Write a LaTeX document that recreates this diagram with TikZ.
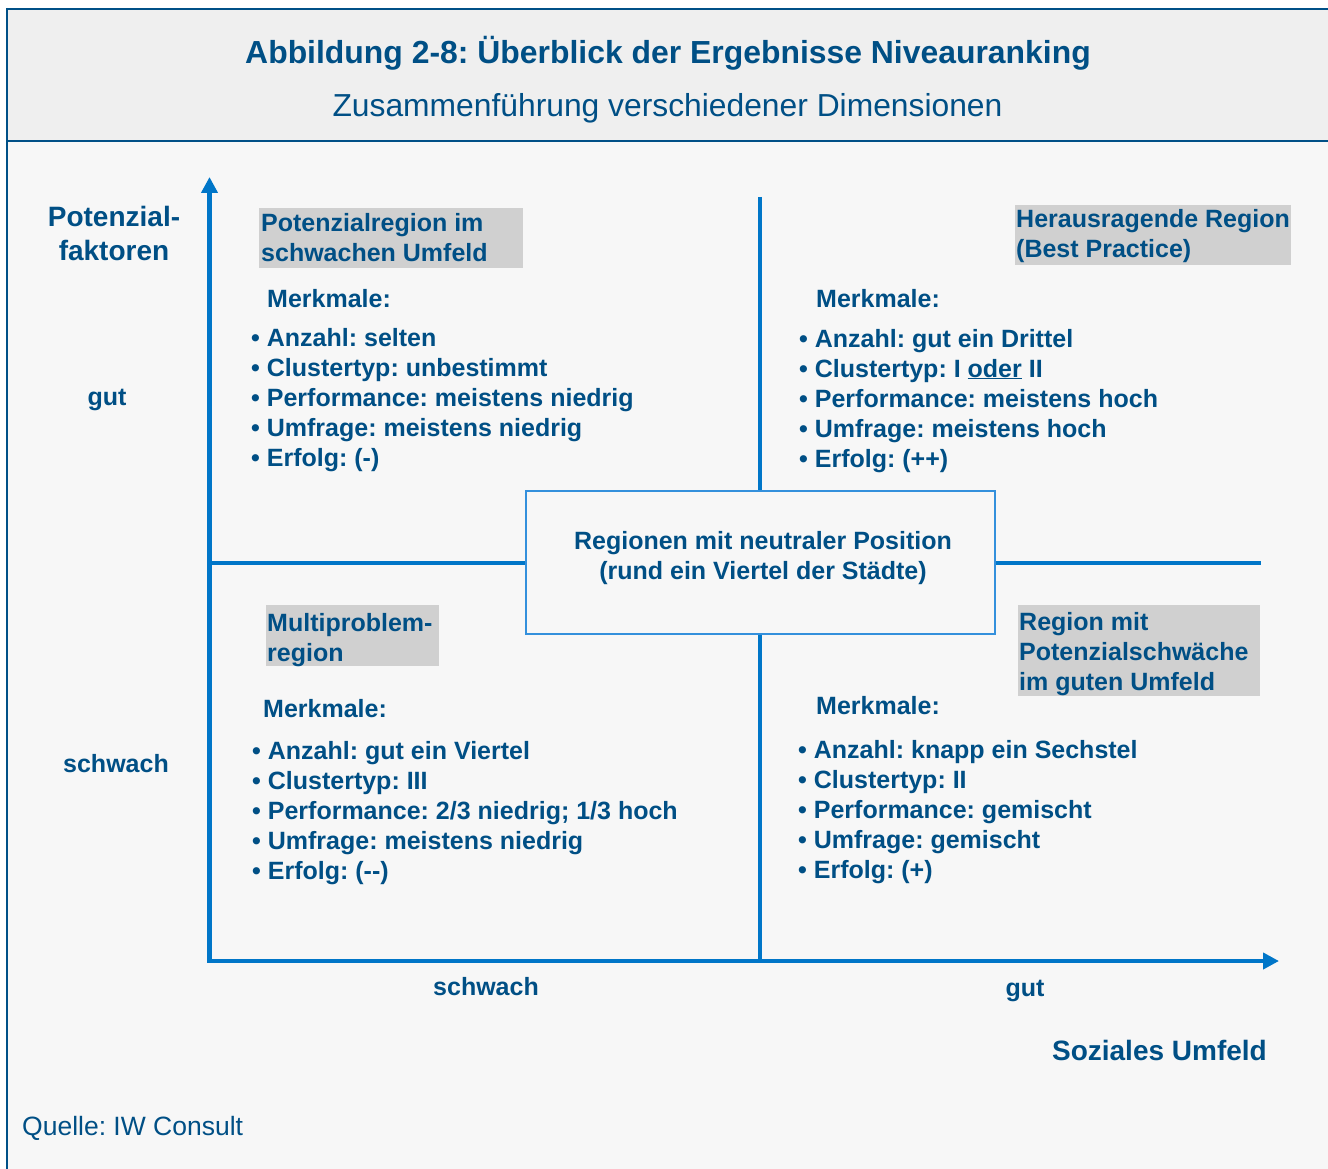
\documentclass[tikz,border=0pt]{standalone}
\usepackage{fontspec}
\setmainfont{Liberation Sans}
\usetikzlibrary{arrows.meta}

\definecolor{ink}{RGB}{0,79,133}
\definecolor{axisblue}{RGB}{0,118,200}
\definecolor{boxblue}{RGB}{52,144,220}
\definecolor{frameblue}{RGB}{0,80,135}
\definecolor{headbg}{RGB}{239,239,239}
\definecolor{bodybg}{RGB}{247,247,247}
\definecolor{tagbg}{RGB}{208,208,208}

\newcommand{\bodyfont}{\fontsize{25}{30}\selectfont\bfseries}
\newcommand{\axisfont}{\fontsize{28}{35}\selectfont\bfseries}

\begin{document}
\frenchspacing
\begin{tikzpicture}[x=1pt,y=-1pt,
  txt/.style={text=ink, inner sep=0pt, font=\bodyfont},
  lst/.style={txt, anchor=base west},
  axlabel/.style={text=ink, inner sep=0pt, font=\axisfont, anchor=base},
  axisline/.style={draw=axisblue, line width=4.5pt},
  quadline/.style={draw=axisblue, line width=4pt},
  tag/.style={fill=tagbg}]

\useasboundingbox (0,0) rectangle (1328,1169);
\fill[white] (0,0) rectangle (1328,1169);

% header band and body background
\fill[headbg] (7,9) rectangle (1328,141);
\fill[bodybg] (7,141) rectangle (1328,1169);
\draw[frameblue, line width=2.5pt] (7,9) -- (1328,9);
\draw[frameblue, line width=2.5pt] (7,141) -- (1328,141);
\draw[frameblue, line width=2.5pt] (7.2,7.8) -- (7.2,1169);

% heading
\node[text=ink, inner sep=0pt, anchor=base, font=\fontsize{31.9}{38}\selectfont\bfseries]
  (title) at (668,64) {Abbildung 2-8: Überblick der Ergebnisse Niveauranking};
\node[text=ink, inner sep=0pt, anchor=base, font=\fontsize{31.8}{38}\selectfont]
  (subtitle) at (667.5,117) {Zusammenführung verschiedener Dimensionen};

% axes
\coordinate (origin) at (209.5,961);
\coordinate (ytip) at (209.5,177);
\coordinate (xtip) at (1279,961);
\draw[axisline, {Triangle[length=16pt,width=16pt]}-{Triangle[length=16pt,width=16pt]}]
  (ytip) -- (origin) -- (xtip);

% central box and quadrant dividers
\node[draw=boxblue, line width=1.8pt, fill=bodybg, minimum width=469pt,
  minimum height=143pt, inner sep=0pt] (neutral) at (760.5,562.5) {};
\node[txt, anchor=base] (neutraltext) at (763,549)
  {\begin{tabular}[t]{@{}c@{}}Regionen mit neutraler Position\\(rund ein Viertel der Städte)\end{tabular}};

\coordinate (vtop) at (760,197);
\coordinate (vbot) at (760,961);
\coordinate (hleft) at (209.5,563);
\coordinate (hright) at (1261,563);
\draw[quadline] (vtop) -- (vtop |- neutral.north);
\draw[quadline] (vbot |- neutral.south) -- (vbot);
\draw[quadline] (hleft) -- (hleft -| neutral.west);
\draw[quadline] (hright -| neutral.east) -- (hright);

% axis labels
\node[axlabel] (potlabel) at (114,226)
  {\begin{tabular}[t]{@{}c@{}}Potenzial-\\faktoren\end{tabular}};
\node[txt, anchor=base] (ygood) at (107,405) {gut};
\node[txt, anchor=base] (yweak) at (116,772) {schwach};
\node[txt, anchor=base] (xweak) at (486,995) {schwach};
\node[txt, anchor=base] (xgood) at (1025,996) {gut};
\node[axlabel, anchor=base east] (soclabel) at (1267,1060) {Soziales Umfeld};

% quadrant: top left
\fill[tag] (259,208) rectangle (523,268);
\node[lst] (tlhead) at (261,232)
  {\begin{tabular}[t]{@{}l@{}}Potenzialregion im\\schwachen Umfeld\end{tabular}};
\node[lst] (tlmerk) at (267,307) {Merkmale:};
\node[lst] (tllist) at (251,346)
  {\begin{tabular}[t]{@{}l@{}}• Anzahl: selten\\• Clustertyp: unbestimmt\\• Performance: meistens niedrig\\• Umfrage: meistens niedrig\\• Erfolg: (-)\end{tabular}};

% quadrant: top right
\fill[tag] (1015,205) rectangle (1291,265);
\node[lst] (trhead) at (1016,228)
  {\begin{tabular}[t]{@{}l@{}}Herausragende Region\\(Best Practice)\end{tabular}};
\node[lst] (trmerk) at (816,307) {Merkmale:};
\node[lst] (trlist) at (799,347)
  {\begin{tabular}[t]{@{}l@{}}• Anzahl: gut ein Drittel\\• Clustertyp: I \underline{oder} II\\• Performance: meistens hoch\\• Umfrage: meistens hoch\\• Erfolg: (++)\end{tabular}};

% quadrant: bottom left
\fill[tag] (266,605) rectangle (439,666);
\node[lst] (blhead) at (267,631)
  {\begin{tabular}[t]{@{}l@{}}Multiproblem-\\region\end{tabular}};
\node[lst] (blmerk) at (263,717) {Merkmale:};
\node[lst] (bllist) at (252,759)
  {\begin{tabular}[t]{@{}l@{}}• Anzahl: gut ein Viertel\\• Clustertyp: III\\• Performance: 2/3 niedrig; 1/3 hoch\\• Umfrage: meistens niedrig\\• Erfolg: (-{}-)\end{tabular}};

% quadrant: bottom right
\fill[tag] (1018,605) rectangle (1260,696);
\node[lst] (brhead) at (1019,630)
  {\begin{tabular}[t]{@{}l@{}}Region mit\\Potenzialschwäche\\im guten Umfeld\end{tabular}};
\node[lst] (brmerk) at (816,714) {Merkmale:};
\node[lst] (brlist) at (798,758)
  {\begin{tabular}[t]{@{}l@{}}• Anzahl: knapp ein Sechstel\\• Clustertyp: II\\• Performance: gemischt\\• Umfrage: gemischt\\• Erfolg: (+)\end{tabular}};

% source line
\node[text=ink, inner sep=0pt, anchor=base west, font=\fontsize{26.5}{32}\selectfont]
  (source) at (22,1135) {Quelle: IW Consult};

\end{tikzpicture}
\end{document}
